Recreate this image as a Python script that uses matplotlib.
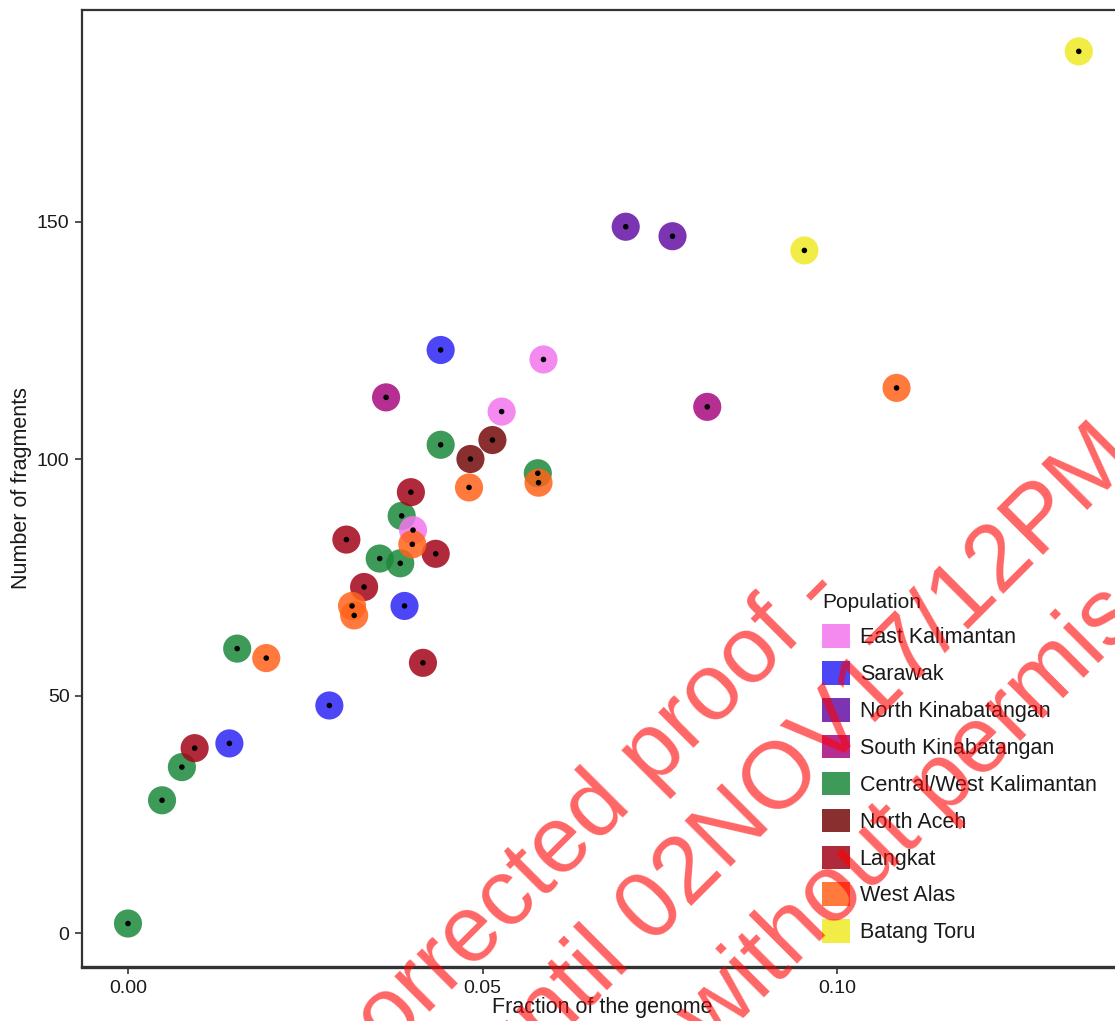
import matplotlib
matplotlib.use("Agg")
import matplotlib.pyplot as plt
from matplotlib.patches import Patch

plt.rcParams['font.family'] = ['Liberation Sans', 'DejaVu Sans']

# ---------------- data ----------------
populations = ["East Kalimantan", "Sarawak", "North Kinabatangan", "South Kinabatangan",
               "Central/West Kalimantan", "North Aceh", "Langkat", "West Alas", "Batang Toru"]
pop_colors = ["#F376EE", "#2E26F6", "#6512A5", "#A8097F",
              "#1C883B", "#760A0C", "#A20518", "#FF631A", "#F0E926"]

# individual samples (population, fraction of genome, number of fragments)
sample_pop = (["Central/West Kalimantan"] * 9 + ["Sarawak"] * 4 + ["North Kinabatangan"] * 2 +
              ["South Kinabatangan"] * 2 + ["East Kalimantan"] * 3 + ["North Aceh"] * 2 +
              ["Langkat"] * 6 + ["West Alas"] * 7 + ["Batang Toru"] * 2)
fraction = [0.0000, 0.0048, 0.0076, 0.0154, 0.0355, 0.0384, 0.0386, 0.0441, 0.0578,   # C/W Kalimantan
            0.0441, 0.0390, 0.0284, 0.0143,                                           # Sarawak
            0.0702, 0.0768,                                                           # N Kinabatangan
            0.0364, 0.0817,                                                           # S Kinabatangan
            0.0586, 0.0527, 0.0402,                                                   # E Kalimantan
            0.0514, 0.0483,                                                           # North Aceh
            0.0399, 0.0308, 0.0434, 0.0333, 0.0416, 0.0094,                           # Langkat
            0.1084, 0.0481, 0.0579, 0.0401, 0.0316, 0.0319, 0.0195,                   # West Alas
            0.0954, 0.1341]                                                           # Batang Toru
fragments = [2, 28, 35, 60, 79, 78, 88, 103, 97,
             123, 69, 48, 40,
             149, 147,
             113, 111,
             121, 110, 85,
             104, 100,
             93, 83, 80, 73, 57, 39,
             115, 94, 95, 82, 69, 67, 58,
             144, 186]

x_ticks = [0.00, 0.05, 0.10]
x_ticklabels = ["0.00", "0.05", "0.10"]
y_ticks = [0, 50, 100, 150]
y_ticklabels = ["0", "50", "100", "150"]

watermark_lines = ["Uncorrected proof -", "until 02NOV17/12PM", "without permission"]

# ---------------- figure ----------------
W, H = 1115, 1021
fig = plt.figure(figsize=(W / 100, H / 100), dpi=100)
fig.patch.set_facecolor("white")

ax_l, ax_r, ax_t, ax_b = 82, 1126, 10, 967
ax = fig.add_axes([ax_l / W, 1 - ax_b / H, (ax_r - ax_l) / W, (ax_b - ax_t) / H])

# pixel -> data calibration used only for the limits
px_per_x = (837 - 128) / 0.10
px_per_y = (933 - 222) / 150.0
ax.set_xlim((ax_l - 128) / px_per_x, (ax_r - 128) / px_per_x)
ax.set_ylim(-(ax_b - 933) / px_per_y, (933 - ax_t) / px_per_y)

color_of = dict(zip(populations, pop_colors))
point_colors = [color_of[p] for p in sample_pop]

ax.scatter(fraction, fragments, s=410, c=point_colors, alpha=0.85, edgecolors="none", zorder=2)
ax.scatter(fraction, fragments, s=16, c="black", edgecolors="none", zorder=3)

ax.set_xticks(x_ticks)
ax.set_xticklabels(x_ticklabels)
ax.set_yticks(y_ticks)
ax.set_yticklabels(y_ticklabels)
ax.tick_params(axis="both", direction="out", length=5, width=1.2, color="#333333",
               labelsize=14, labelcolor="#1a1a1a", pad=4)

for side in ["left", "top", "right"]:
    ax.spines[side].set_color("#333333")
    ax.spines[side].set_linewidth(1.6)
ax.spines["bottom"].set_color("#333333")
ax.spines["bottom"].set_linewidth(2.4)

fig.text(602 / W, 1 - 1007 / H, "Fraction of the genome", ha="center", va="center",
         fontsize=15.5, color="#1a1a1a")
fig.text(22 / W, 1 - 488 / H, "Number of fragments", ha="center", va="center",
         rotation=90, fontsize=15.5, color="#1a1a1a")

handles = [Patch(facecolor=c, edgecolor="none", alpha=0.85) for c in pop_colors]
leg = fig.legend(handles, populations, title="Population", loc="upper left",
                 bbox_to_anchor=(822 / W, 1 - 592.5 / H), frameon=False, fontsize=15.5,
                 title_fontsize=15, handlelength=1.3, handleheight=1.3, handletextpad=0.45,
                 labelspacing=0.60, borderpad=0, borderaxespad=0, alignment="left")
for t in leg.get_texts():
    t.set_color("#1a1a1a")
leg.get_title().set_color("#1a1a1a")

# watermark
wm_anchor = [(846, 596, "right"), (510, 1087, "left"), (712, 1050, "left")]
for (px, py, ha), txt in zip(wm_anchor, watermark_lines):
    fig.text(px / W, 1 - py / H, txt, ha=ha, va="baseline", rotation=45,
             rotation_mode="anchor", fontsize=68, color="red", alpha=0.6, zorder=10)

fig.savefig("out.png", dpi=100)
